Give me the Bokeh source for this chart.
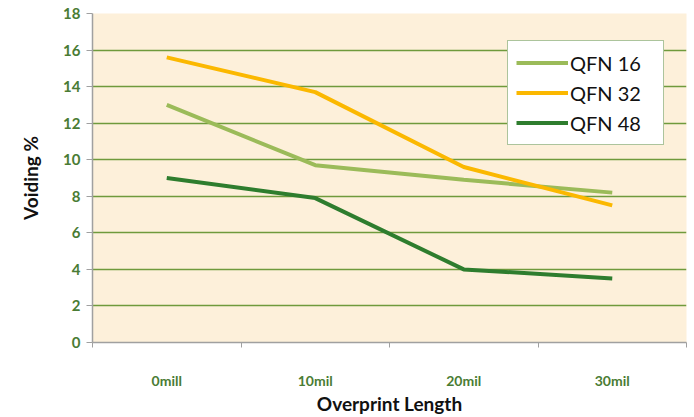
from bokeh.plotting import figure
from bokeh.models import Range1d, FixedTicker, Legend, LegendItem
from bokeh.embed import file_html
from bokeh.resources import INLINE

categories = ["0mill", "10mil", "20mil", "30mil"]
qfn16 = [13.0, 9.7, 8.9, 8.2]
qfn32 = [15.6, 13.7, 9.6, 7.5]
qfn48 = [9.0, 7.9, 4.0, 3.5]
y_ticks = [0, 2, 4, 6, 8, 10, 12, 14, 16, 18]

xs = list(range(len(categories)))

p = figure(width=694, height=417, output_backend="svg", toolbar_location=None,
           x_range=Range1d(-0.5, len(categories) - 0.5), y_range=Range1d(0, 18),
           min_border_left=92, min_border_right=8, min_border_top=13, min_border_bottom=75)
p.background_fill_color = "#fdf0da"
p.border_fill_color = "white"
p.outline_line_color = None

font = "Lato"
label_green = "#4a7c34"

# x axis
p.xaxis.ticker = FixedTicker(ticks=xs, minor_ticks=[i - 0.5 for i in range(len(categories) + 1)])
p.xaxis.major_label_overrides = {i: c for i, c in zip(xs, categories)}
p.xaxis.major_tick_line_color = None
p.xaxis.minor_tick_line_color = "#a0a0a0"
p.xaxis.minor_tick_in = 0
p.xaxis.minor_tick_out = 5
p.xaxis.axis_line_color = "#a0a0a0"
p.xaxis.axis_line_width = 1.5
p.xaxis.major_label_text_font = font
p.xaxis.major_label_text_font_style = "bold"
p.xaxis.major_label_text_font_size = "14px"
p.xaxis.major_label_text_color = label_green
p.xaxis.major_label_standoff = 23
p.xaxis.axis_label = "Overprint Length"
p.xaxis.axis_label_text_font = font
p.xaxis.axis_label_text_font_style = "bold"
p.xaxis.axis_label_text_font_size = "19px"
p.xaxis.axis_label_text_color = "#111111"
p.xaxis.axis_label_standoff = 0

# y axis
p.yaxis.ticker = FixedTicker(ticks=y_ticks)
p.yaxis.minor_tick_line_color = None
p.yaxis.major_tick_line_color = "#a0a0a0"
p.yaxis.major_tick_in = 0
p.yaxis.major_tick_out = 6
p.yaxis.axis_line_color = "#a0a0a0"
p.yaxis.axis_line_width = 1.5
p.yaxis.major_label_text_font = font
p.yaxis.major_label_text_font_style = "bold"
p.yaxis.major_label_text_font_size = "15px"
p.yaxis.major_label_text_color = label_green
p.yaxis.major_label_standoff = 6
p.yaxis.axis_label = "Voiding %"
p.yaxis.axis_label_text_font = font
p.yaxis.axis_label_text_font_style = "bold"
p.yaxis.axis_label_text_font_size = "19px"
p.yaxis.axis_label_text_color = "#111111"
p.yaxis.axis_label_standoff = 18

p.xgrid.grid_line_color = None
p.ygrid.grid_line_color = "#6f9a3c"
p.ygrid.grid_line_width = 1.5

r16 = p.line(xs, qfn16, line_color="#9bbb59", line_width=4)
r32 = p.line(xs, qfn32, line_color="#fbb800", line_width=4)
r48 = p.line(xs, qfn48, line_color="#2e7d2e", line_width=4)

legend = Legend(items=[LegendItem(label="QFN 16", renderers=[r16]),
                       LegendItem(label="QFN 32", renderers=[r32]),
                       LegendItem(label="QFN 48", renderers=[r48])],
                location=(415, 197))
legend.background_fill_color = "white"
legend.background_fill_alpha = 1
legend.border_line_color = "#5a8a3a"
legend.border_line_width = 1.5
legend.label_text_font = font
legend.label_text_font_size = "20px"
legend.label_text_color = "#111111"
legend.glyph_width = 52
legend.glyph_height = 27
legend.label_height = 27
legend.label_width = 85
legend.label_standoff = 2
legend.spacing = 3
legend.padding = 8
legend.margin = 0
p.add_layout(legend, "center")

open("out.html", "w").write(file_html(p, INLINE))
